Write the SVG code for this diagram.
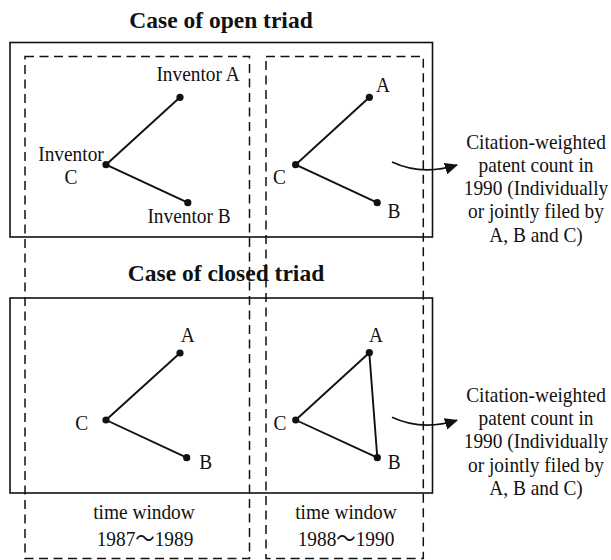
<svg xmlns="http://www.w3.org/2000/svg" width="611" height="560" viewBox="0 0 611 560">
  <style>
    .t { font-family: "Liberation Serif", "Times New Roman", "Noto Sans CJK SC", serif; font-size: 21.5px; fill: #111; }
    .h { font-family: "Liberation Serif", "Times New Roman", serif; font-size: 23.5px; font-weight: bold; fill: #111; text-anchor: middle; }
    .box { fill: none; stroke: #111; stroke-width: 1.6; }
    .win { fill: none; stroke: #111; stroke-width: 1.5; stroke-dasharray: 9 5.5; }
    .edge { stroke: #111; stroke-width: 1.9; fill: none; }
    .dot { fill: #111; }
    .arr { fill: none; stroke: #111; stroke-width: 1.6; }
  </style>
  <defs>
    <marker id="ah" markerUnits="userSpaceOnUse" markerWidth="14" markerHeight="13" refX="12" refY="6" orient="auto">
      <path d="M0,0 L13,6 L0,12 z" fill="#111"/>
    </marker>
  </defs>
  <rect width="611" height="560" fill="#fff"/>

  <!-- titles -->
  <text class="h" x="221" y="28">Case of open triad</text>
  <text class="h" x="226" y="281">Case of closed triad</text>

  <!-- case boxes -->
  <rect id="open-box" class="box" x="10" y="42.5" width="422.5" height="194.5"/>
  <rect id="closed-box" class="box" x="10" y="298" width="422.5" height="195"/>

  <!-- time windows -->
  <g id="window-1987">
    <rect class="win" x="25" y="56.5" width="224.5" height="502"/>
    <text class="t" text-anchor="middle" transform="translate(144,519) scale(0.9,1)">time window</text>
    <text class="t" text-anchor="middle" transform="translate(145,546) scale(0.9,1)">1987～1989</text>
  </g>
  <g id="window-1988">
    <rect class="win" x="266" y="56.5" width="157.3" height="502"/>
    <text class="t" text-anchor="middle" transform="translate(346,519) scale(0.9,1)">time window</text>
    <text class="t" text-anchor="middle" transform="translate(346,546) scale(0.9,1)">1988～1990</text>
  </g>

  <!-- connectors -->
  <g id="connectors">
    <line class="edge" x1="106" y1="164.7" x2="180" y2="97.3"/>
    <line class="edge" x1="106" y1="164.7" x2="187.8" y2="202.7"/>
    <line class="edge" x1="295.6" y1="164.7" x2="369.4" y2="97.3"/>
    <line class="edge" x1="295.6" y1="164.7" x2="377.2" y2="202.7"/>
    <line class="edge" x1="106" y1="420" x2="180" y2="353"/>
    <line class="edge" x1="106" y1="420" x2="186.7" y2="457.7"/>
    <line class="edge" x1="295.7" y1="420" x2="369.3" y2="352.7"/>
    <line class="edge" x1="295.7" y1="420" x2="377.3" y2="457.7"/>
    <line class="edge" x1="369.3" y1="352.7" x2="377.3" y2="457.7"/>
    <path class="arr" d="M392,162 Q422,176 457,165" marker-end="url(#ah)"/>
    <path class="arr" d="M392,417.3 Q422,431.3 457,420.3" marker-end="url(#ah)"/>
  </g>

  <!-- open triad, window 1 -->
  <g id="o1-A"><circle class="dot" cx="180" cy="97.3" r="3.6"/><text class="t" text-anchor="middle" transform="translate(198,81) scale(0.9,1)">Inventor A</text></g>
  <g id="o1-C"><circle class="dot" cx="106" cy="164.7" r="3.6"/><text class="t" text-anchor="middle" transform="translate(71,161) scale(0.9,1)">Inventor</text><text class="t" text-anchor="middle" transform="translate(71,184) scale(0.9,1)">C</text></g>
  <g id="o1-B"><circle class="dot" cx="187.8" cy="202.7" r="3.6"/><text class="t" text-anchor="middle" transform="translate(189,222.5) scale(0.9,1)">Inventor B</text></g>

  <!-- open triad, window 2 -->
  <g id="o2-A"><circle class="dot" cx="369.4" cy="97.3" r="3.6"/><text class="t" text-anchor="middle" transform="translate(383,92) scale(0.9,1)">A</text></g>
  <g id="o2-C"><circle class="dot" cx="295.6" cy="164.7" r="3.6"/><text class="t" text-anchor="middle" transform="translate(279.5,184) scale(0.9,1)">C</text></g>
  <g id="o2-B"><circle class="dot" cx="377.2" cy="202.7" r="3.6"/><text class="t" text-anchor="middle" transform="translate(394,218) scale(0.9,1)">B</text></g>

  <!-- closed triad, window 1 -->
  <g id="c1-A"><circle class="dot" cx="180" cy="353" r="3.6"/><text class="t" text-anchor="middle" transform="translate(187.7,342) scale(0.9,1)">A</text></g>
  <g id="c1-C"><circle class="dot" cx="106" cy="420" r="3.6"/><text class="t" text-anchor="middle" transform="translate(81.7,430) scale(0.9,1)">C</text></g>
  <g id="c1-B"><circle class="dot" cx="186.7" cy="457.7" r="3.6"/><text class="t" text-anchor="middle" transform="translate(205.7,468.5) scale(0.9,1)">B</text></g>

  <!-- closed triad, window 2 -->
  <g id="c2-A"><circle class="dot" cx="369.3" cy="352.7" r="3.6"/><text class="t" text-anchor="middle" transform="translate(376,342) scale(0.9,1)">A</text></g>
  <g id="c2-C"><circle class="dot" cx="295.7" cy="420" r="3.6"/><text class="t" text-anchor="middle" transform="translate(280,430) scale(0.9,1)">C</text></g>
  <g id="c2-B"><circle class="dot" cx="377.3" cy="457.7" r="3.6"/><text class="t" text-anchor="middle" transform="translate(394.3,468.5) scale(0.9,1)">B</text></g>

  <!-- outcomes -->
  <g id="outcome-open">
    <text class="t" text-anchor="middle" transform="translate(536,148.5) scale(0.9,1)">Citation-weighted</text>
    <text class="t" text-anchor="middle" transform="translate(536,171.8) scale(0.9,1)">patent count in</text>
    <text class="t" text-anchor="middle" transform="translate(536,195.1) scale(0.9,1)">1990 (Individually</text>
    <text class="t" text-anchor="middle" transform="translate(536,218.4) scale(0.9,1)">or jointly filed by</text>
    <text class="t" text-anchor="middle" transform="translate(536,241.7) scale(0.9,1)">A, B and C)</text>
  </g>
  <g id="outcome-closed">
    <text class="t" text-anchor="middle" transform="translate(536,401.8) scale(0.9,1)">Citation-weighted</text>
    <text class="t" text-anchor="middle" transform="translate(536,425.1) scale(0.9,1)">patent count in</text>
    <text class="t" text-anchor="middle" transform="translate(536,448.4) scale(0.9,1)">1990 (Individually</text>
    <text class="t" text-anchor="middle" transform="translate(536,471.7) scale(0.9,1)">or jointly filed by</text>
    <text class="t" text-anchor="middle" transform="translate(536,495) scale(0.9,1)">A, B and C)</text>
  </g>
</svg>
